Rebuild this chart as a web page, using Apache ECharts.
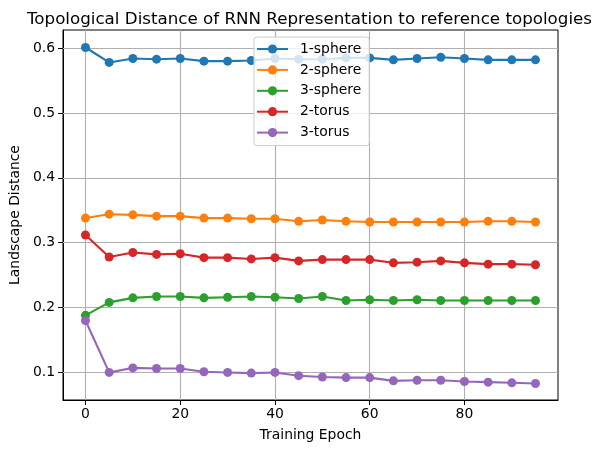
<!DOCTYPE html>
<html>
<head>
<meta charset="utf-8">
<script src="https://cdn.jsdelivr.net/npm/echarts@6/dist/echarts.min.js"></script>
<style>html,body{margin:0;padding:0;background:#fff}#c{width:601px;height:453px}</style>
</head>
<body>
<div id="c"></div>
<script>
const epochs = [0,5,10,15,20,25,30,35,40,45,50,55,60,65,70,75,80,85,90,95];
const sphere1 = [0.601,0.578,0.584,0.583,0.584,0.580,0.580,0.581,0.584,0.583,0.583,0.585,0.585,0.582,0.584,0.586,0.584,0.582,0.582,0.582];
const sphere2 = [0.338,0.344,0.343,0.341,0.341,0.338,0.338,0.337,0.337,0.333,0.335,0.333,0.332,0.332,0.332,0.332,0.332,0.333,0.333,0.332];
const sphere3 = [0.188,0.208,0.215,0.217,0.217,0.215,0.216,0.217,0.216,0.214,0.217,0.211,0.212,0.211,0.212,0.211,0.211,0.211,0.211,0.211];
const torus2 = [0.312,0.278,0.285,0.282,0.283,0.277,0.277,0.275,0.277,0.272,0.274,0.274,0.274,0.269,0.270,0.272,0.269,0.267,0.267,0.266];
const torus3 = [0.180,0.100,0.107,0.106,0.106,0.101,0.100,0.099,0.100,0.095,0.093,0.092,0.092,0.087,0.088,0.088,0.086,0.085,0.084,0.083];
const seriesNames = ['1-sphere','2-sphere','3-sphere','2-torus','3-torus'];
const seriesValues = [sphere1, sphere2, sphere3, torus2, torus3];
const colors = ['#1f77b4','#ff7f0e','#2ca02c','#d62728','#9467bd'];
const xTicks = [0,20,40,60,80];
const yTicks = [0.1,0.2,0.3,0.4,0.5,0.6];

const FONT = 'DejaVu Sans';
const chart = echarts.init(document.getElementById('c'), null, {renderer:'canvas'});
chart.setOption({
  animation:false,
  color: colors,
  title:{text:'Topological Distance of RNN Representation to reference topologies', left:22, top:6,
    textStyle:{fontFamily:FONT, fontSize:16.7, fontWeight:'normal', color:'#000'}},
  grid:{left:61, right:43, top:30, bottom:53, show:true, borderColor:'#000', borderWidth:1, backgroundColor:'transparent'},
  legend:{orient:'vertical', left:254, top:37, padding:[4,8,5,2], itemWidth:31, itemHeight:11.5, itemGap:4.9,
    backgroundColor:'rgba(255,255,255,0.8)', borderColor:'#cccccc', borderWidth:1, borderRadius:3,
    textStyle:{fontFamily:FONT, fontSize:13.9, color:'#000', lineHeight:16, padding:[0,0,0,7]},
    data: seriesNames},
  xAxis:{type:'value', min:-4.75, max:99.75,
    name:'Training Epoch', nameLocation:'middle', nameGap:28,
    nameTextStyle:{fontFamily:FONT, fontSize:13.9, color:'#000'},
    axisLine:{show:true, onZero:false, lineStyle:{color:'#000', width:1}},
    axisTick:{show:true, length:5, customValues:xTicks, lineStyle:{color:'#000', width:1}},
    axisLabel:{customValues:xTicks, margin:7, fontFamily:FONT, fontSize:13.9, color:'#000'},
    splitLine:{show:false}},
  yAxis:{type:'value', min:0.0575, max:0.628,
    name:'Landscape Distance', nameLocation:'middle', nameGap:38,
    nameTextStyle:{fontFamily:FONT, fontSize:13.9, color:'#000'},
    axisLine:{show:true, onZero:false, lineStyle:{color:'#000', width:1}},
    axisTick:{show:true, length:5, customValues:yTicks, lineStyle:{color:'#000', width:1}},
    axisLabel:{customValues:yTicks, margin:8, fontFamily:FONT, fontSize:13.9, color:'#000',
      formatter:v=>v.toFixed(1)},
    splitLine:{show:false}},
  series: seriesNames.map((n,i)=>{
    const s = {name:n, type:'line', data: epochs.map((e,j)=>[e, seriesValues[i][j]]),
      symbol:'circle', symbolSize:9, showSymbol:true,
      lineStyle:{width:2.1, color:colors[i]}, itemStyle:{color:colors[i]}, z:3};
    if(i===0){
      s.markLine = {silent:true, symbol:'none', label:{show:false}, z:1,
        lineStyle:{color:'#b0b0b0', width:1.1, type:'solid'},
        data: xTicks.map(v=>({xAxis:v})).concat(yTicks.map(v=>({yAxis:v})))};
    }
    return s;
  })
});
</script>
</body>
</html>
